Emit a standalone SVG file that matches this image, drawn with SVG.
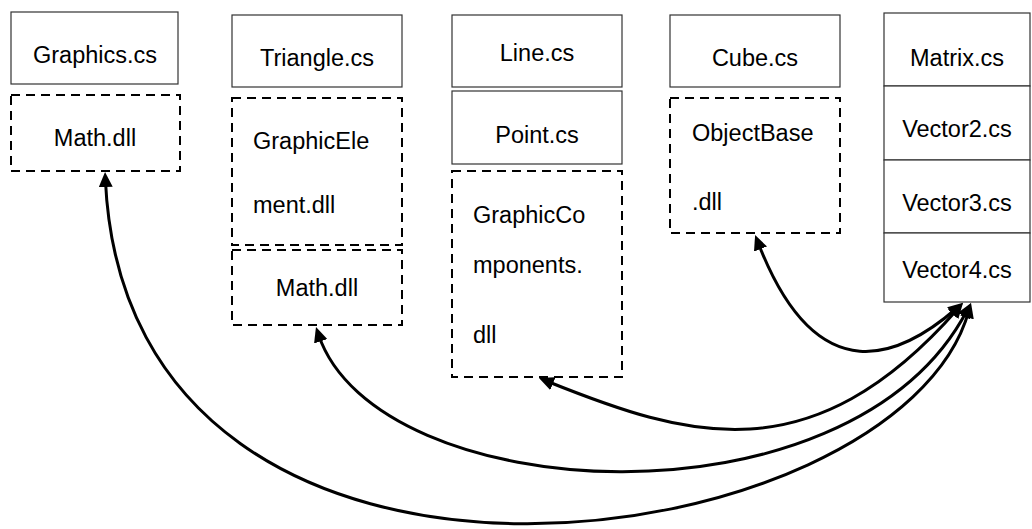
<svg xmlns="http://www.w3.org/2000/svg" width="1032" height="529" viewBox="0 0 1032 529">
<style>
.solid{fill:#fff;stroke:#333;stroke-width:1.2}
.dash{fill:#fff;stroke:#000;stroke-width:2;stroke-dasharray:9 6}
.t{font-family:"Liberation Sans",Arial,sans-serif;font-size:23.5px;fill:#000}
.c{text-anchor:middle}
.conn{fill:none;stroke:#000;stroke-width:3}
</style>
<defs>
<marker id="ah" viewBox="0 0 15 14" refX="7" refY="7" markerWidth="15" markerHeight="14" orient="auto-start-reverse" markerUnits="userSpaceOnUse">
<path d="M0,0 L15,7 L0,14 z" fill="#000"/>
</marker>
</defs>
<g id="graphics">
<rect class="solid" x="11" y="12" width="167" height="72"/>
<text class="t c" x="95" y="63">Graphics.cs</text>
</g>
<g id="math1">
<rect class="dash" x="11" y="95" width="169" height="76"/>
<text class="t c" x="95" y="146">Math.dll</text>
</g>
<g id="triangle">
<rect class="solid" x="232" y="15" width="170" height="72"/>
<text class="t c" x="317" y="66">Triangle.cs</text>
</g>
<g id="graphicelement">
<rect class="dash" x="232" y="98" width="170" height="147"/>
<text class="t" x="253" y="149">GraphicEle</text>
<text class="t" x="253" y="213">ment.dll</text>
</g>
<g id="math2">
<rect class="dash" x="232" y="250" width="170" height="75"/>
<text class="t c" x="317" y="296">Math.dll</text>
</g>
<g id="line">
<rect class="solid" x="452" y="15" width="170" height="72"/>
<text class="t c" x="537" y="61">Line.cs</text>
</g>
<g id="point">
<rect class="solid" x="452" y="91" width="170" height="73"/>
<text class="t c" x="537" y="143">Point.cs</text>
</g>
<g id="graphiccomponents">
<rect class="dash" x="452" y="171" width="170" height="206"/>
<text class="t" x="473" y="223">GraphicCo</text>
<text class="t" x="473" y="273">mponents.</text>
<text class="t" x="473" y="343">dll</text>
</g>
<g id="cube">
<rect class="solid" x="670" y="15" width="170" height="72"/>
<text class="t c" x="755" y="66">Cube.cs</text>
</g>
<g id="objectbase">
<rect class="dash" x="670" y="98" width="170" height="135"/>
<text class="t" x="692" y="141">ObjectBase</text>
<text class="t" x="692" y="210">.dll</text>
</g>
<g id="matrix">
<rect class="solid" x="884" y="13" width="146" height="73"/>
<text class="t c" x="957" y="66">Matrix.cs</text>
</g>
<g id="vector2">
<rect class="solid" x="884" y="86" width="146" height="74"/>
<text class="t c" x="957" y="137">Vector2.cs</text>
</g>
<g id="vector3">
<rect class="solid" x="884" y="160" width="146" height="73"/>
<text class="t c" x="957" y="211">Vector3.cs</text>
</g>
<g id="vector4">
<rect class="solid" x="884" y="233" width="146" height="69"/>
<text class="t c" x="957" y="278">Vector4.cs</text>
</g>
<g id="connectors">
<path class="conn" marker-start="url(#ah)" marker-end="url(#ah)" d="M957,308 C903,355 818,398 758,242.5"/>
<path class="conn" marker-start="url(#ah)" marker-end="url(#ah)" d="M957.7,309 C811,476 688,438 546.4,381"/>
<path class="conn" marker-start="url(#ah)" marker-end="url(#ah)" d="M967.3,310 C849,536 376,507 318.5,334.6"/>
<path class="conn" marker-start="url(#ah)" marker-end="url(#ah)" d="M968.9,310.7 C900,560 128,673 105.4,180"/>
</g>
</svg>
